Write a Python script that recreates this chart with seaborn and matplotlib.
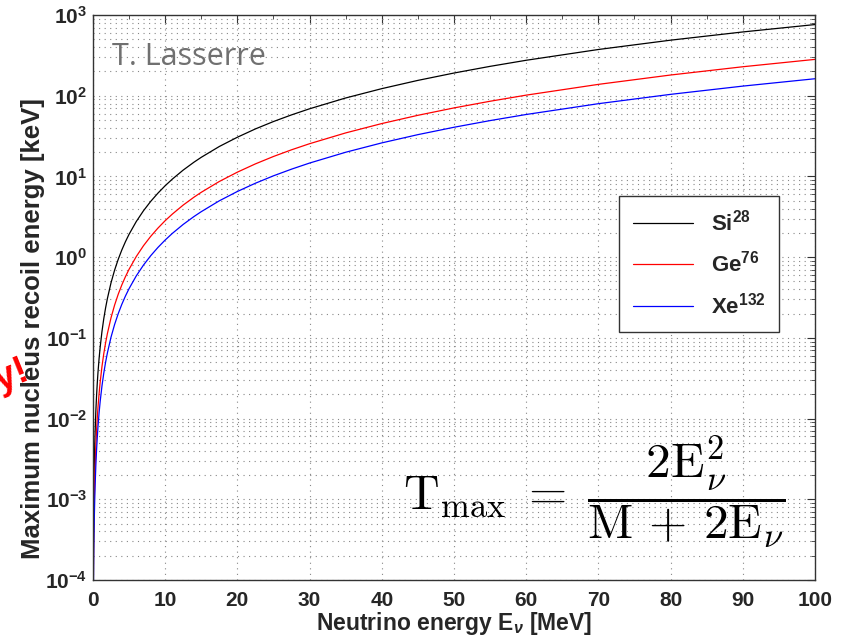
import numpy as np
import pandas as pd
import matplotlib
matplotlib.use("Agg")
import matplotlib.pyplot as plt
import seaborn as sns
from matplotlib.ticker import LogLocator, MultipleLocator, NullFormatter

# Values (neutrino energy in MeV, recoil energy in keV)
energy = [0.05, 0.08, 0.1, 0.12, 0.15, 0.2, 0.25, 0.3, 0.4, 0.5, 0.6, 0.7, 0.85, 1, 1.25,
          1.5, 1.75, 2, 2.5, 3, 3.5, 4, 4.5, 5, 6, 7, 8, 9, 10, 11, 12.5, 14, 15, 17.5,
          20, 22.5, 25, 27.5, 30, 35, 40, 45, 50, 55, 60, 70, 80, 90, 100]
si28 = [1.92e-4, 4.9e-4, 7.7e-4, 1.105e-3, 1.73e-3, 3.07e-3, 4.8e-3, 6.9e-3, 0.0123, 0.0192,
        0.0276, 0.0376, 0.0555, 0.0767, 0.120, 0.173, 0.235, 0.307, 0.480, 0.691, 0.940,
        1.228, 1.554, 1.919, 2.763, 3.76, 4.91, 6.21, 7.67, 9.28, 11.99, 15.04, 17.26, 23.5,
        30.6, 38.8, 47.9, 57.9, 68.9, 93.8, 122.4, 154.9, 191.1, 231.2, 275, 374, 488, 617, 762]
ge76 = [7.1e-5, 1.81e-4, 2.83e-4, 4.07e-4, 6.37e-4, 1.13e-3, 1.77e-3, 2.55e-3, 4.53e-3, 7.07e-3,
        0.0102, 0.0139, 0.0204, 0.0283, 0.0442, 0.0637, 0.0866, 0.113, 0.177, 0.255, 0.347,
        0.453, 0.573, 0.707, 1.018, 1.386, 1.81, 2.29, 2.83, 3.42, 4.42, 5.54, 6.36, 8.66,
        11.3, 14.31, 17.67, 21.38, 25.44, 34.62, 45.21, 57.21, 70.62, 85.44, 101.7, 138.3,
        180.6, 228.6, 282.1]
xe132 = [4.1e-5, 1.04e-4, 1.63e-4, 2.35e-4, 3.66e-4, 6.51e-4, 1.02e-3, 1.47e-3, 2.61e-3, 4.07e-3,
         5.86e-3, 7.98e-3, 0.01177, 0.0163, 0.0254, 0.0366, 0.0499, 0.0651, 0.1018, 0.1466,
         0.1995, 0.2606, 0.3298, 0.407, 0.586, 0.798, 1.042, 1.319, 1.629, 1.971, 2.545, 3.19,
         3.66, 4.99, 6.51, 8.24, 10.18, 12.31, 14.65, 19.94, 26.04, 32.95, 40.67, 49.2, 58.56,
         79.7, 104.0, 131.6, 162.4]
labels = ["Si$^{28}$", "Ge$^{76}$", "Xe$^{132}$"]
colors = ["#000000", "#ff0000", "#0000ff"]

df = pd.concat([
    pd.DataFrame({"E": energy, "T": vals, "iso": lab})
    for vals, lab in zip([si28, ge76, xe132], labels)
])

sns.set_theme(style="white")
plt.rcParams["font.family"] = ["Liberation Sans", "DejaVu Sans"]
plt.rcParams["mathtext.fontset"] = "custom"
plt.rcParams["mathtext.rm"] = "Liberation Sans:bold"
plt.rcParams["mathtext.bf"] = "Liberation Sans:bold"
plt.rcParams["mathtext.it"] = "Liberation Sans:bold:italic"

fig = plt.figure(figsize=(8.45, 6.42), dpi=100)
ax = fig.add_axes([0.110, 0.0966, 0.8545, 0.88])

sns.lineplot(data=df, x="E", y="T", hue="iso", palette=dict(zip(labels, colors)),
             linewidth=0.9, ax=ax, estimator=None, sort=True)

ax.set_yscale("log")
ax.set_xlim(0, 100)
ax.set_ylim(1e-4, 1e3)
ax.xaxis.set_major_locator(MultipleLocator(10))
ax.xaxis.set_minor_locator(MultipleLocator(5))
ax.yaxis.set_major_locator(LogLocator(base=10, numticks=20))
ax.yaxis.set_minor_locator(LogLocator(base=10, subs=np.arange(2, 10), numticks=50))
ax.yaxis.set_minor_formatter(NullFormatter())

ax.tick_params(which="both", direction="in", top=True, right=True, color="#333333")
ax.tick_params(which="major", length=6, width=0.8, labelsize=15)
ax.tick_params(axis="x", which="major", pad=8)
ax.tick_params(axis="y", which="major", pad=4)
ax.tick_params(which="minor", length=3, width=0.6)
for lab in ax.get_xticklabels() + ax.get_yticklabels():
    lab.set_fontweight("bold")

ax.grid(which="major", axis="both", linestyle=(0, (1, 4)), color="#888888", linewidth=0.8)
ax.grid(which="minor", axis="y", linestyle=(0, (1, 4)), color="#888888", linewidth=0.8)

for s in ax.spines.values():
    s.set_color("#333333")
    s.set_linewidth(1.0)
    s.set_visible(True)

ax.set_xlabel(r"Neutrino energy E$_{\nu}$ [MeV]", fontsize=16.5, fontweight="bold", labelpad=0)
ax.set_ylabel("Maximum nucleus recoil energy [keV]", fontsize=18.5, fontweight="bold")
ax.yaxis.set_label_coords(-0.066, 0.445)

leg = ax.legend(loc="upper right", bbox_to_anchor=(0.965, 0.699), frameon=True,
                fancybox=False, framealpha=1, edgecolor="#333333", fontsize=16,
                handlelength=2.7, borderpad=0.6, labelspacing=0.7, handletextpad=0.8,
                title=None)
leg.get_frame().set_linewidth(1.0)
for t in leg.get_texts():
    t.set_fontweight("bold")

ax.text(0.026, 0.925, "T. Lasserre", transform=ax.transAxes, fontsize=22,
        color="#707070", family="Open Sans", va="center", ha="left")

ax.text(0.43, 0.155,
        r"$\mathrm{T}_{\max}\;=\;\dfrac{2\mathrm{E}_{\nu}^{2}}{\mathrm{M}\,+\,2\mathrm{E}_{\nu}}$",
        transform=ax.transAxes, fontsize=35.5, math_fontfamily="cm", va="center", ha="left",
        color="black")

fig.text(31 / 845, 1 - 378 / 642, "rgy!", color="#ff0000", fontsize=27, fontweight="bold",
         rotation=22, rotation_mode="anchor", ha="right", va="baseline", zorder=10)

fig.savefig("out.png", dpi=100)
